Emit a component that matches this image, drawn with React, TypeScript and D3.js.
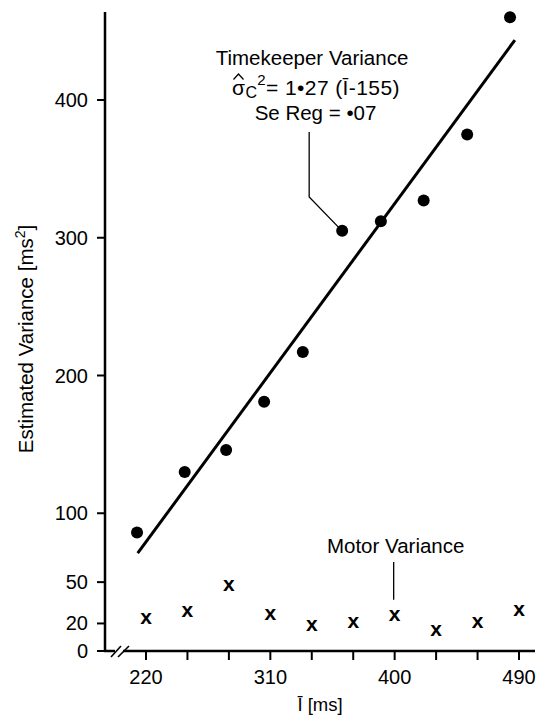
import React from "react";
import * as d3 from "d3";

// Mean interval (ms) and estimated timekeeper variance (ms^2)
const timekeeperInterval = [213.5, 248, 278, 305.5, 333.5, 362, 390, 421, 452.5, 483.5];
const timekeeperVariance = [86, 130, 146, 181, 217, 305, 312, 327, 375, 460];

// Mean interval (ms) and estimated motor variance (ms^2)
const motorInterval = [220, 250, 280, 310, 340, 370, 400, 430, 460, 490];
const motorVariance = [25, 30, 49, 28, 20, 22, 27, 16, 22, 31];

// Fitted timekeeper line endpoints
const fitInterval = [214, 487];
const fitVariance = [71, 443.5];

const xTicks = [220, 250, 280, 310, 340, 370, 400, 430, 460, 490];
const xTickLabels = [220, 310, 400, 490];
const yTicks = [0, 20, 50, 100, 200, 300, 400];

const W = 538;
const H = 719;
const FONT = "'Liberation Sans', Arial, Helvetica, sans-serif";

export default function App() {
  const x = d3.scaleLinear().domain([220, 490]).range([146, 519]);
  const y = d3.scaleLinear().domain([0, 400]).range([651, 100]);

  const axisX = 105;
  const axisY = y(0);
  const axisTop = 12;
  const axisRight = 535;

  const fitLine = d3
    .line<number>()
    .x((d) => x(d))
    .y((_, i) => y(fitVariance[i]));

  // Annotation anchors (leader lines run to these marks)
  const tkX = x(timekeeperInterval[5]);
  const tkY = y(timekeeperVariance[5]);
  const mvX = x(motorInterval[6]);
  const mvY = y(motorVariance[6]);

  const annFont = 20.5;

  return (
    <svg
      width={W}
      height={H}
      style={{ position: "absolute", left: 0, top: 0, background: "#fff" }}
      fontFamily={FONT}
    >
      <rect width={W} height={H} fill="#fff" />

      {/* y axis */}
      <line x1={axisX} y1={axisTop} x2={axisX} y2={axisY + 1} stroke="#000" strokeWidth={2.5} />
      {yTicks.map((t) => (
        <g key={"yt" + t}>
          <line x1={axisX - 8} x2={axisX} y1={y(t)} y2={y(t)} stroke="#000" strokeWidth={2} />
          <text
            x={88}
            y={y(t)}
            textAnchor="end"
            dominantBaseline="central"
            fontSize={20}
            fill="#000"
          >
            {t}
          </text>
        </g>
      ))}

      {/* x axis with break */}
      <line x1={axisX - 1} y1={axisY} x2={115} y2={axisY} stroke="#000" strokeWidth={2.5} />
      <line x1={123} y1={axisY} x2={axisRight} y2={axisY} stroke="#000" strokeWidth={2.5} />
      <line x1={111} y1={axisY + 6} x2={121} y2={axisY - 5} stroke="#000" strokeWidth={1.6} />
      <line x1={118} y1={axisY + 6} x2={129} y2={axisY - 5} stroke="#000" strokeWidth={1.6} />
      {xTicks.map((t) => (
        <line key={"xt" + t} x1={x(t)} x2={x(t)} y1={axisY} y2={axisY + 9} stroke="#000" strokeWidth={2} />
      ))}
      {xTickLabels.map((t) => (
        <text key={"xl" + t} x={x(t)} y={684} textAnchor="middle" fontSize={20} fill="#000">
          {t}
        </text>
      ))}

      {/* axis titles */}
      <text x={320} y={711} textAnchor="middle" fontSize={18.5} fill="#000">
        Ī [ms]
      </text>
      <text
        transform={`translate(33, 339) rotate(-90)`}
        textAnchor="middle"
        fontSize={20.5}
        fill="#000"
      >
        Estimated Variance [ms
        <tspan dy={-8} fontSize={14}>2</tspan>
        <tspan dy={8}>]</tspan>
      </text>

      {/* fitted timekeeper line */}
      <path d={fitLine(fitInterval) || ""} fill="none" stroke="#000" strokeWidth={3} />

      {/* timekeeper variance points */}
      {timekeeperInterval.map((d, i) => (
        <circle key={"tk" + i} cx={x(d)} cy={y(timekeeperVariance[i])} r={6} fill="#000" />
      ))}

      {/* motor variance points */}
      {motorInterval.map((d, i) => (
        <text
          key={"mv" + i}
          x={x(d)}
          y={y(motorVariance[i])}
          textAnchor="middle"
          dominantBaseline="central"
          fontSize={21}
          fontWeight="bold"
          fill="#000"
        >
          x
        </text>
      ))}

      {/* timekeeper annotation */}
      <text x={312} y={65} textAnchor="middle" fontSize={annFont} fill="#000">
        Timekeeper Variance
      </text>
      {/* hat over sigma */}
      <path d="M233.5,79.5 L238.5,74 L243.5,79.5" fill="none" stroke="#000" strokeWidth={1.3} />
      <text x={232} y={95} textAnchor="start" fontSize={21} letterSpacing={0.4} fill="#000">
        σ<tspan dy={3} fontSize={16}>C</tspan>
        <tspan dy={-13} fontSize={15}>2</tspan>
        <tspan dy={10}>= 1•27 (Ī-155)</tspan>
      </text>
      <text x={315.5} y={120} textAnchor="middle" fontSize={annFont} fill="#000">
        Se Reg = •07
      </text>
      <polyline
        points={`${tkX - 33},132 ${tkX - 33},197 ${tkX - 4},${tkY - 4}`}
        fill="none"
        stroke="#000"
        strokeWidth={1.3}
      />

      {/* motor annotation */}
      <text x={mvX + 1} y={553} textAnchor="middle" fontSize={annFont} fill="#000">
        Motor Variance
      </text>
      <line x1={mvX - 1} x2={mvX - 1} y1={562} y2={mvY - 14} stroke="#000" strokeWidth={1.3} />
    </svg>
  );
}
